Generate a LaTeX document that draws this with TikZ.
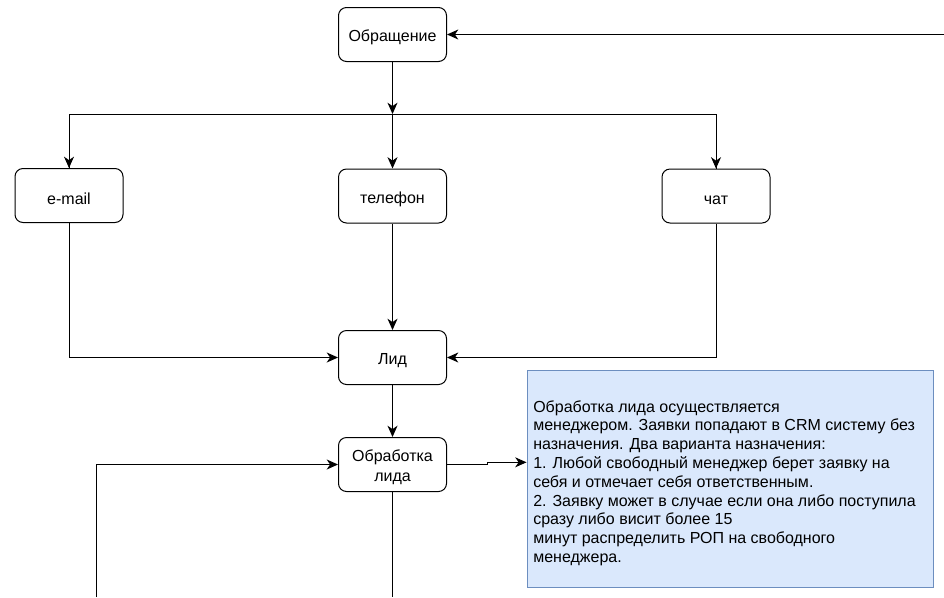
\documentclass[tikz,border=0pt]{standalone}
\usepackage{fontspec}
\setmainfont{Liberation Sans}
\usetikzlibrary{arrows.meta}

\definecolor{notefill}{HTML}{DAE8FC}
\definecolor{notedraw}{HTML}{6C8EBF}

% two centred lines, nudged down a little without changing the box size
\newcommand{\twolines}[2]{\raisebox{-2.6pt}[\height][\depth]{\begin{tabular}{@{}c@{}}#1\\#2\end{tabular}}}

\tikzset{
  flowbox/.style={draw=black, fill=white, line width=0.75pt, rounded corners=6pt,
    minimum width=81pt, minimum height=40.5pt, inner sep=2pt, align=center,
    font=\fontsize{12}{15}\selectfont,
    execute at begin node={\rule{0pt}{13pt}}},
  link/.style={line width=0.75pt, draw=black},
  arr/.style={link, -{Stealth[length=8.5pt,width=7.5pt,inset=2.6pt]}},
  notebox/.style={draw=notedraw, fill=notefill, line width=0.75pt,
    minimum width=304.5pt, minimum height=162.75pt, inner sep=0pt},
  notetext/.style={align=left, inner sep=0pt, anchor=west,
    font=\fontsize{12}{14.1}\selectfont}
}

\begin{document}
\begin{tikzpicture}[x=0.75pt, y=-0.75pt]
  \useasboundingbox (0,0) rectangle (944,597);

  % boxes
  \node[flowbox] (obr)   at (392.5,34.5) {Обращение};
  \node[flowbox] (email) at (69,195.5)   {e-mail};
  \node[flowbox] (phone) at (392.5,196)  {телефон};
  \node[flowbox] (chat)  at (716,196)    {чат};
  \node[flowbox] (lead)  at (392.5,357.5) {Лид};
  \node[flowbox] (proc)  at (392.5,464.5) {\twolines{Обработка}{лида}};

  \node[notebox] (note) at (730,478.5) {};
  \node[notetext] (notetxt) at (533,483) {Обработка лида осуществляется\\
менеджером. Заявки попадают в CRM систему без\\
назначения. Два варианта назначения:\\
1. Любой свободный менеджер берет заявку на\\
себя и отмечает себя ответственным.\\
2. Заявку может в случае если она либо поступила\\
сразу либо висит более 15\\
минут распределить РОП на свободного\\
менеджера.};

  % helper points
  \coordinate (rin)   at (944,34.5);
  \coordinate (fork)  at (392.5,114);
  \coordinate (loopb) at (96,597);
  \coordinate (downb) at (392.5,597);
  \coordinate (jog)   at (0,462.3);

  % incoming return line
  \draw[arr] (rin) -- (obr.east);

  % fan-out to channels
  \draw[arr] (obr.south) -- (fork);
  \draw[link] (fork) -| (email.north);
  \draw[link] (fork) -| (chat.north);
  \draw[arr] (fork -| email.north) -- (email.north);
  \draw[arr] (fork -| chat.north) -- (chat.north);
  \draw[arr] (fork) -- (phone.north);

  % channels to lead
  \draw[arr] (email.south) |- (lead.west);
  \draw[arr] (chat.south) |- (lead.east);
  \draw[arr] (phone.south) -- (lead.north);

  % lead processing
  \draw[arr] (lead.south) -- (proc.north);
  \draw[arr] (loopb) |- (proc.west);
  \draw[link] (proc.south) -- (downb);
  \draw[arr] (proc.east) -- ++(40,0) |- (note.west |- jog);
\end{tikzpicture}
\end{document}
